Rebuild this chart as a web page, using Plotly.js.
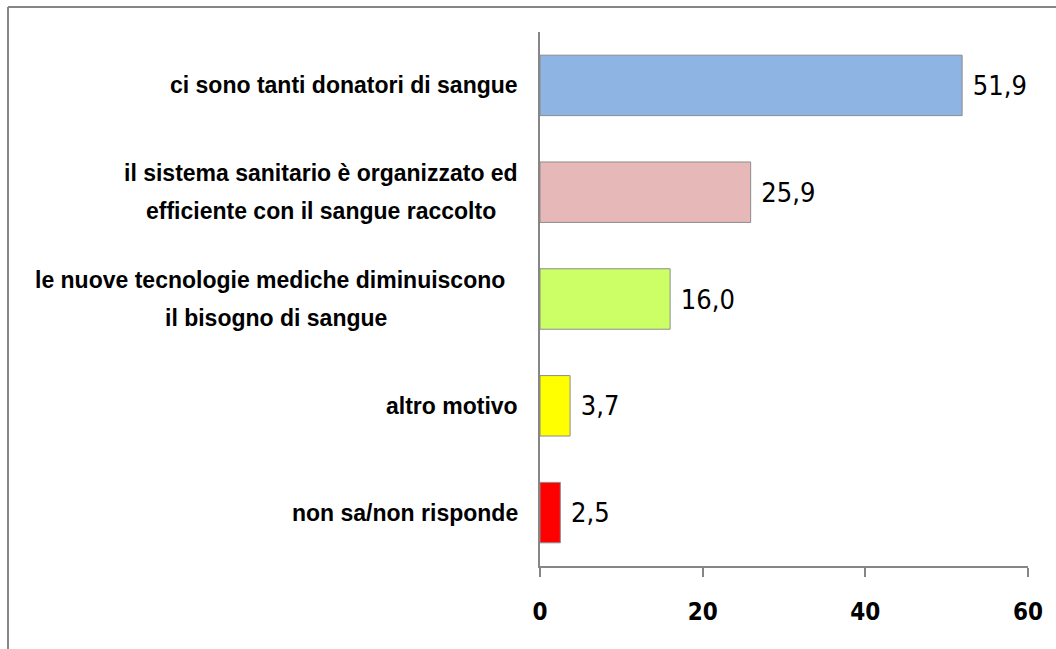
<!DOCTYPE html>
<html>
<head>
<meta charset="utf-8">
<script src="https://cdn.plot.ly/plotly-3.0.1.min.js"></script>
<style>
  html, body { margin: 0; padding: 0; background: #fff; }
  #chart { width: 1056px; height: 649px; }
</style>
</head>
<body>
<div id="chart"></div>
<script>
// categories top to bottom, '\n' marks the line break of the label
let categories = [
    'ci sono tanti donatori di sangue',
    'il sistema sanitario è organizzato ed\nefficiente con il sangue raccolto',
    'le nuove tecnologie mediche diminuiscono \nil bisogno di sangue',
    'altro motivo',
    'non sa/non risponde',
];
let values = [51.9, 25.9, 16.0, 3.7, 2.5];
let barColors = ['#8EB4E3', '#E6B9B8', '#CCFF66', '#FFFF00', '#FF0000'];
let xTicks = [0, 20, 40, 60];

let grey = '#868686';
let labelFont = 'bold 23px "Liberation Sans"';
let narrow = 'DejaVu Sans Condensed';

// plot area in pixels
let plotLeft = 540, plotRight = 1028, plotTop = 32, plotBottom = 566;
let W = 1056, H = 649;

function px2paperX(px) { return (px - plotLeft) / (plotRight - plotLeft); }
function px2paperY(py) { return (plotBottom - py) / (plotBottom - plotTop); }

// measure label lines so the multi-line labels can be centred
let ctx = document.createElement('canvas').getContext('2d');
ctx.font = labelFont;

let annotations = [];
let labelRight = 518;
categories.forEach((cat) => {
    // keep trailing spaces visible (svg would drop them)
    let lines = cat.split('\n').map((l) => l.replace(/ +$/, (s) => '\u00a0'.repeat(s.length * 2)));
    let widest = Math.max(...lines.map((l) => ctx.measureText(l).width));
    let center = labelRight - widest / 2;
    lines.forEach((line, i) => {
        let shift = lines.length > 1 ? (i === 0 ? 19 : -19) : 0;
        annotations.push({
            xref: 'paper',
            yref: 'y',
            x: 0,
            y: cat,
            xanchor: 'center',
            yanchor: 'middle',
            xshift: center - plotLeft,
            yshift: shift,
            text: line,
            showarrow: false,
            font: { family: 'Liberation Sans', size: 23, color: '#000', weight: 'bold' },
        });
    });
});

let trace = {
    type: 'bar',
    orientation: 'h',
    x: values,
    y: categories,
    marker: {
        color: barColors,
        line: { color: '#8C8C8C', width: 1 },
    },
    text: values.map((v) => '\u00a0' + v.toFixed(1).replace('.', ',')),
    textposition: 'outside',
    constraintext: 'none',
    cliponaxis: false,
    textfont: { family: narrow, size: 27, color: '#000' },
    hoverinfo: 'none',
};

let layout = {
    width: W,
    height: H,
    margin: { l: plotLeft, r: W - plotRight, t: plotTop, b: H - plotBottom },
    paper_bgcolor: '#fff',
    plot_bgcolor: '#fff',
    showlegend: false,
    bargap: 0.434,
    xaxis: {
        range: [0, 60],
        tickvals: xTicks,
        ticktext: xTicks.map(String),
        ticks: 'outside',
        ticklen: 9,
        tickwidth: 2,
        tickcolor: grey,
        showline: true,
        linecolor: grey,
        linewidth: 2,
        showgrid: false,
        zeroline: false,
        ticklabelstandoff: 14,
        tickfont: { family: narrow, size: 24, color: '#000', weight: 'bold' },
    },
    yaxis: {
        autorange: 'reversed',
        showticklabels: false,
        ticks: '',
        showline: true,
        linecolor: grey,
        linewidth: 2,
        showgrid: false,
        zeroline: false,
    },
    annotations: annotations,
    shapes: [
        // outer chart border (left and top are visible)
        {
            type: 'line', xref: 'paper', yref: 'paper',
            x0: px2paperX(8), x1: px2paperX(8), y0: px2paperY(7), y1: px2paperY(H + 5),
            line: { color: grey, width: 2 },
        },
        {
            type: 'line', xref: 'paper', yref: 'paper',
            x0: px2paperX(8), x1: px2paperX(W + 5), y0: px2paperY(7), y1: px2paperY(7),
            line: { color: grey, width: 2 },
        },
    ],
};

Plotly.newPlot('chart', [trace], layout, { staticPlot: true, displayModeBar: false });
</script>
</body>
</html>
